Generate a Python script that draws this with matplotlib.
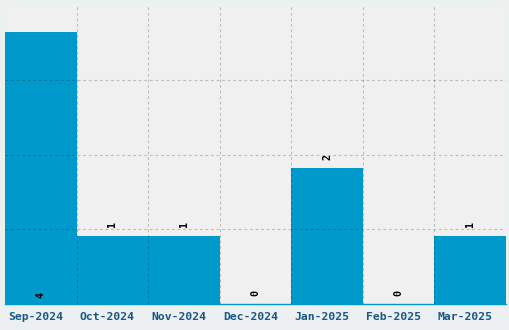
import matplotlib
matplotlib.use("Agg")
import matplotlib.pyplot as plt
import matplotlib.transforms as mtransforms
import numpy as np

categories = ["Sep-2024", "Oct-2024", "Nov-2024", "Dec-2024", "Jan-2025", "Feb-2025", "Mar-2025"]
values = [4, 1, 1, 0, 2, 0, 1]

bar_color = "#0099cc"
text_color = "#16588a"

fig = plt.figure(figsize=(5.1, 3.3), dpi=100, facecolor="#ecf0f1")
ax = fig.add_axes([5/510, 26/330, 501/510, 299/330])
ax.set_facecolor("#f0f0f0")

x = np.arange(len(categories))
ax.bar(x, values, width=1.0, color=bar_color, zorder=1)

ymax = max(values) * 1.1
ax.set_ylim(0, ymax)
ax.set_xlim(-0.5, len(categories) - 0.5)

ax.set_yticks(np.linspace(0, ymax, 5)[1:-1])
ax.set_yticklabels([])
ax.tick_params(axis="y", length=0)
ax.set_xticks(x)
ax.set_xticklabels(categories, fontfamily="DejaVu Sans Mono", fontweight="bold",
                   fontsize=8.2, color=text_color)
ax.tick_params(axis="x", length=0, pad=6)
shift = mtransforms.ScaledTranslation(-5/100, 0, fig.dpi_scale_trans)
for lbl in ax.get_xticklabels():
    lbl.set_transform(lbl.get_transform() + shift)
ax.set_xticks(x[:-1] + 0.5, minor=True)
ax.tick_params(axis="x", which="minor", length=0)

ls = (0, (2.5, 2.5))
ax.grid(axis="y", which="major", color="black", alpha=0.22, linestyle=ls, linewidth=0.8, zorder=3)
ax.grid(axis="x", which="minor", color="black", alpha=0.22, linestyle=ls, linewidth=0.8, zorder=3)
ax.grid(axis="x", which="major", visible=False)
ax.set_axisbelow(False)

for s in ["top", "left", "right"]:
    ax.spines[s].set_visible(False)
ax.spines["bottom"].set_color(bar_color)
ax.spines["bottom"].set_linewidth(1)

vmax = max(values)
for xi, v in zip(x, values):
    ypos = 0 if v == vmax else v
    off = 9 if v == vmax else 11.5
    ax.annotate(str(v), (xi, ypos), xytext=(0, off), textcoords="offset pixels",
                ha="center", va="center", rotation=90, fontsize=7.2,
                fontfamily="DejaVu Sans Mono", fontweight="bold", color="black", zorder=4)

fig.savefig("out.png", dpi=100, facecolor=fig.get_facecolor())
